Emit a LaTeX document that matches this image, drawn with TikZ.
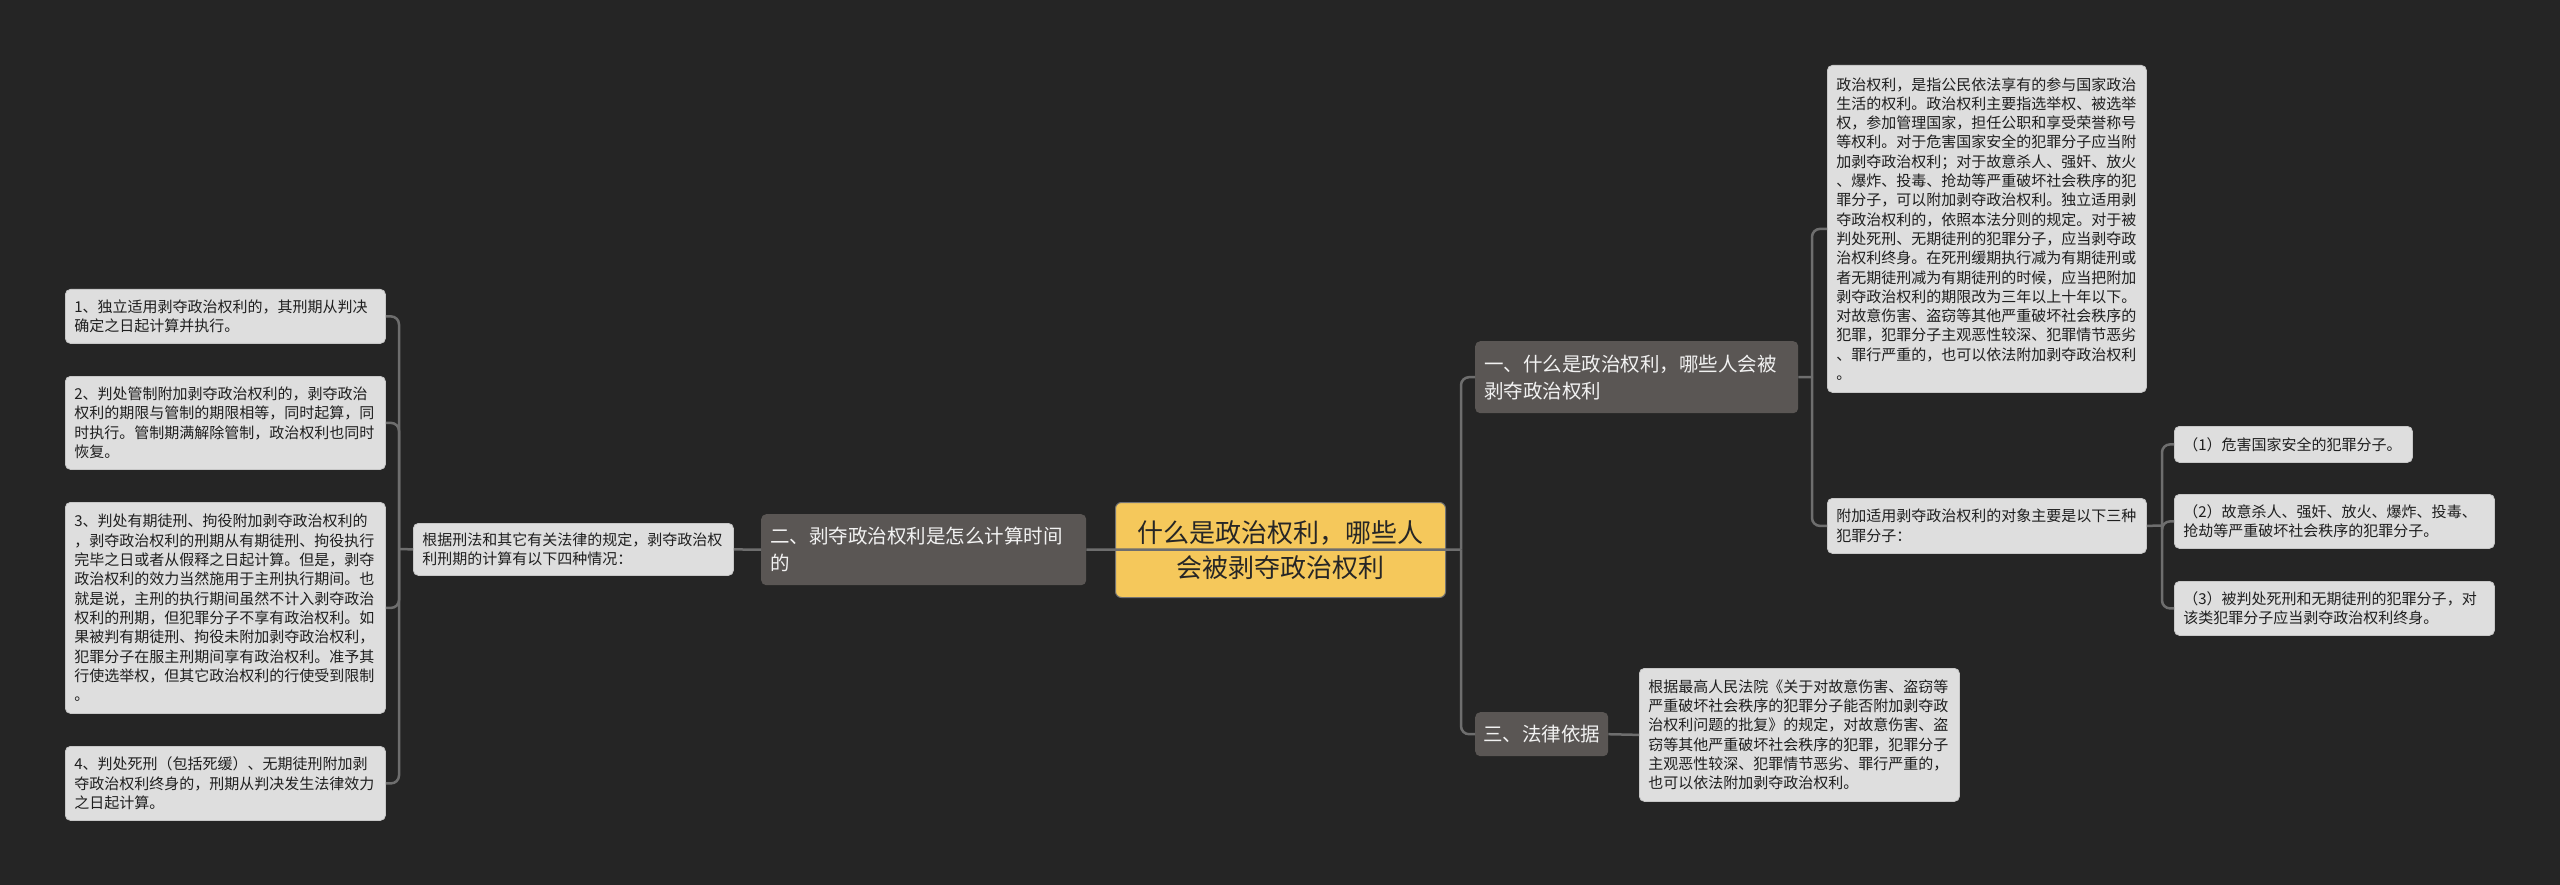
\documentclass[tikz,border=0pt]{standalone}
\usepackage{fontspec}
\setmainfont{Noto Sans CJK SC}
\usetikzlibrary{shapes, calc}

\definecolor{bgdark}{HTML}{252525}
\definecolor{boxlight}{HTML}{DEDEDE}
\definecolor{topicgray}{HTML}{5A5654}
\definecolor{rootyellow}{HTML}{F5C85B}
\definecolor{linegray}{HTML}{6E6E6E}

\begin{document}
\begin{tikzpicture}[x=1pt, y=-1pt,
box_style/.style={rectangle, rounded corners=5pt, fill=boxlight, draw=white!78!black, line width=0.8pt, text=black!88, font=\fontsize{15}{19.3}\selectfont, inner xsep=9pt, inner ysep=0pt, align=left, anchor=north west},
topic_style/.style={rectangle, rounded corners=5pt, fill=topicgray, text=white!95!black, font=\fontsize{19.5}{27}\selectfont, inner xsep=9pt, inner ysep=0pt, align=left, anchor=north west},
root_style/.style={rectangle, rounded corners=6pt, fill=rootyellow, draw=black!55, line width=1pt, text=black!85, font=\fontsize{26}{35}\selectfont, inner sep=0pt, align=center, anchor=north west, minimum width=330pt},
edge_style/.style={linegray, line width=2.5pt, rounded corners=8pt},
]

\fill[bgdark] (0,0) rectangle (2560,885);
\useasboundingbox (0,0) rectangle (2560,885);

% centre and main topics
\node[root_style, minimum height=95pt] at (1115,502) (root) {什么是政治权利，哪些人\\会被剥夺政治权利};
\node[topic_style, text width=305pt, minimum height=72pt] at (1475,341) (yi) {一、什么是政治权利，哪些人会被\\剥夺政治权利};
\node[topic_style, text width=307pt, minimum height=71pt] at (761,514) (er) {二、剥夺政治权利是怎么计算时间\\的};
\node[topic_style, inner xsep=8pt, minimum height=44pt] at (1475,712) (san) {三、法律依据};

% right side
\node[box_style, text width=301pt, minimum height=327pt] at (1827,65) (quanli) {政治权利，是指公民依法享有的参与国家政治\\生活的权利。政治权利主要指选举权、被选举\\权，参加管理国家，担任公职和享受荣誉称号\\等权利。对于危害国家安全的犯罪分子应当附\\加剥夺政治权利；对于故意杀人、强奸、放火\\、爆炸、投毒、抢劫等严重破坏社会秩序的犯\\罪分子，可以附加剥夺政治权利。独立适用剥\\夺政治权利的，依照本法分则的规定。对于被\\判处死刑、无期徒刑的犯罪分子，应当剥夺政\\治权利终身。在死刑缓期执行减为有期徒刑或\\者无期徒刑减为有期徒刑的时候，应当把附加\\剥夺政治权利的期限改为三年以上十年以下。\\对故意伤害、盗窃等其他严重破坏社会秩序的\\犯罪，犯罪分子主观恶性较深、犯罪情节恶劣\\、罪行严重的，也可以依法附加剥夺政治权利\\。};
\node[box_style, text width=301pt, minimum height=55pt] at (1827,498) (fujia) {附加适用剥夺政治权利的对象主要是以下三种\\犯罪分子：};
\node[box_style, text width=220pt, minimum height=36pt] at (2174,426) (fz1) {（1）危害国家安全的犯罪分子。};
\node[box_style, text width=302pt, minimum height=54pt] at (2174,494) (fz2) {（2）故意杀人、强奸、放火、爆炸、投毒、\\抢劫等严重破坏社会秩序的犯罪分子。};
\node[box_style, text width=302pt, minimum height=54pt] at (2174,581) (fz3) {（3）被判处死刑和无期徒刑的犯罪分子，对\\该类犯罪分子应当剥夺政治权利终身。};
\node[box_style, text width=302pt, minimum height=133pt] at (1639,668) (yiju) {根据最高人民法院《关于对故意伤害、盗窃等\\严重破坏社会秩序的犯罪分子能否附加剥夺政\\治权利问题的批复》的规定，对故意伤害、盗\\窃等其他严重破坏社会秩序的犯罪，犯罪分子\\主观恶性较深、犯罪情节恶劣、罪行严重的，\\也可以依法附加剥夺政治权利。};

% left side
\node[box_style, text width=302pt, minimum height=52pt] at (413,523) (genju) {根据刑法和其它有关法律的规定，剥夺政治权\\利刑期的计算有以下四种情况：};
\node[box_style, text width=302pt, minimum height=54pt] at (65,289) (qk1) {1、独立适用剥夺政治权利的，其刑期从判决\\确定之日起计算并执行。};
\node[box_style, text width=302pt, minimum height=93pt] at (65,376) (qk2) {2、判处管制附加剥夺政治权利的，剥夺政治\\权利的期限与管制的期限相等，同时起算，同\\时执行。管制期满解除管制，政治权利也同时\\恢复。};
\node[box_style, text width=302pt, minimum height=211pt] at (65,502) (qk3) {3、判处有期徒刑、拘役附加剥夺政治权利的\\，剥夺政治权利的刑期从有期徒刑、拘役执行\\完毕之日或者从假释之日起计算。但是，剥夺\\政治权利的效力当然施用于主刑执行期间。也\\就是说，主刑的执行期间虽然不计入剥夺政治\\权利的刑期，但犯罪分子不享有政治权利。如\\果被判有期徒刑、拘役未附加剥夺政治权利，\\犯罪分子在服主刑期间享有政治权利。准予其\\行使选举权，但其它政治权利的行使受到限制\\。};
\node[box_style, text width=302pt, minimum height=74pt] at (65,746) (qk4) {4、判处死刑（包括死缓）、无期徒刑附加剥\\夺政治权利终身的，刑期从判决发生法律效力\\之日起计算。};

\coordinate (rootbus) at (1461,549.5);
\coordinate (yibus) at (1812,377);
\coordinate (fjbus) at (2162,525.5);
\coordinate (genbus) at (399,549);

\draw[edge_style] (er.east) -- (rootbus);
\draw[edge_style] (rootbus) |- (yi.west);
\draw[edge_style] (rootbus) |- (san.west);
\draw[edge_style] (yi.east) -- (yibus);
\foreach\n in {quanli,fujia}{
	\draw[edge_style] (yibus) |- (\n.west);
	}
\draw[edge_style] (fujia.east) -- (fjbus);
\foreach\n in {fz1,fz2,fz3}{
	\draw[edge_style] (fjbus) |- (\n.west);
	}
\draw[edge_style] (san.east) -- (yiju.west);
\draw[edge_style] (er.west) -- (genju.east);
\draw[edge_style] (genju.west) -- (genbus);
\foreach\n in {qk1,qk2,qk3,qk4}{
	\draw[edge_style] (genbus) |- (\n.east);
	}

\end{tikzpicture}
\end{document}
